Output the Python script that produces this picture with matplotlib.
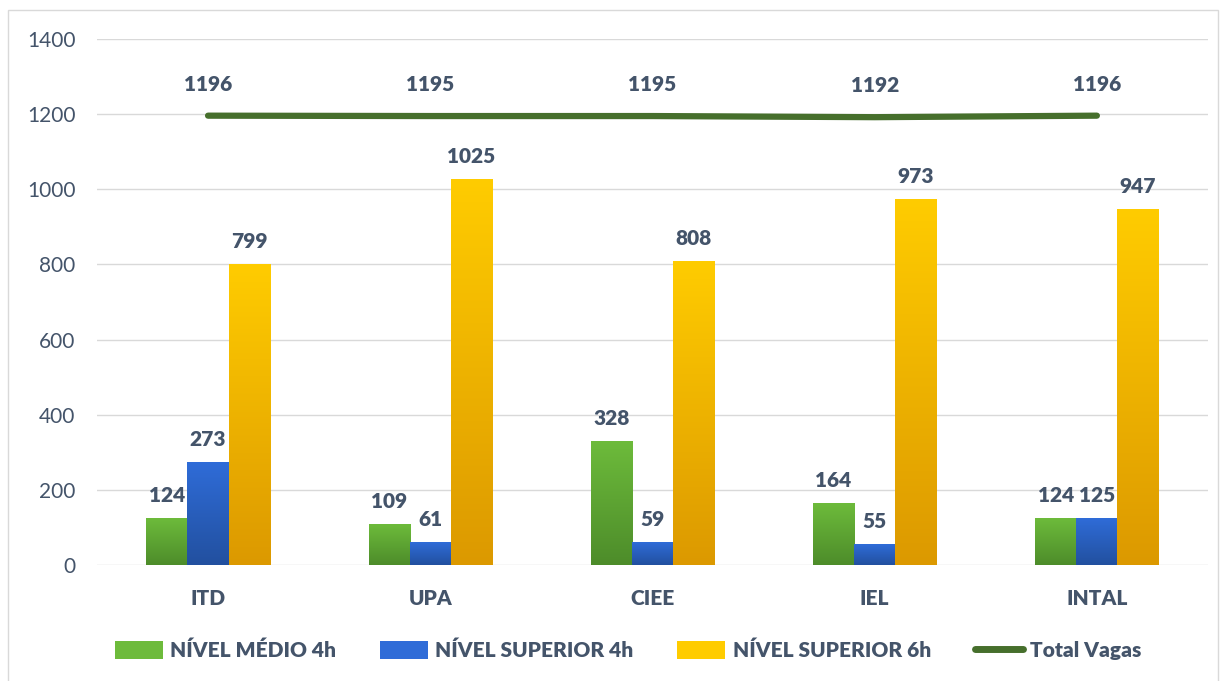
import numpy as np
import matplotlib
matplotlib.use('Agg')
import matplotlib.pyplot as plt
from matplotlib.colors import LinearSegmentedColormap
from matplotlib.patches import Patch, Rectangle
from matplotlib.lines import Line2D

plt.rcParams['font.family'] = ['Lato', 'DejaVu Sans']

categories = ['ITD', 'UPA', 'CIEE', 'IEL', 'INTAL']
medio_4h = [124, 109, 328, 164, 124]
superior_4h = [273, 61, 59, 55, 125]
superior_6h = [799, 1025, 808, 973, 947]
total_vagas = [1196, 1195, 1195, 1192, 1196]

series_names = ['NÍVEL MÉDIO 4h', 'NÍVEL SUPERIOR 4h', 'NÍVEL SUPERIOR 6h']
# (top colour, bottom colour) for the vertical gradients
grad_colors = [('#6dbb3b', '#4d8c2a'), ('#2f6cd8', '#22509f'), ('#ffcc00', '#dc9900')]
line_color = '#466f2c'
label_color = '#44546a'

fig = plt.figure(figsize=(12.27, 6.81), dpi=100)
ax = fig.add_axes([0.079, 0.1703, 0.9055, 0.7724])

x = np.arange(len(categories))
width = 0.185
offsets = [-width, 0, width]
grad = np.linspace(1, 0, 256).reshape(-1, 1)

for vals, off, (c_top, c_bot) in zip([medio_4h, superior_4h, superior_6h], offsets, grad_colors):
    cmap = LinearSegmentedColormap.from_list('g', [c_bot, c_top])
    for xi, v in zip(x, vals):
        x0 = xi + off - width / 2
        ax.imshow(grad, cmap=cmap, extent=[x0, x0 + width, 0, v], aspect='auto',
                  zorder=2, interpolation='bilinear', vmin=0, vmax=1)
        ax.text(xi + off, v + 36, str(v), ha='center', va='bottom', fontsize=15,
                fontweight='heavy', color=label_color, zorder=4)

ax.plot(x, total_vagas, color=line_color, lw=4.5, solid_capstyle='round', zorder=3)
for xi, v in zip(x, total_vagas):
    ax.text(xi, v + 58, str(v), ha='center', va='bottom', fontsize=15,
            fontweight='heavy', color=label_color, zorder=4)

ax.set_xlim(-0.5, len(categories) - 0.5)
ax.set_ylim(0, 1400)
ax.set_yticks(range(0, 1401, 200))
ax.set_xticks(x)
ax.set_xticklabels(categories, fontweight='heavy')
ax.tick_params(axis='both', length=0, labelsize=15, colors=label_color)
ax.tick_params(axis='x', pad=17)
ax.tick_params(axis='y', pad=15.5)
ax.grid(axis='y', color='#d9d9d9', lw=1, zorder=0)
ax.set_axisbelow(True)
for s in ax.spines.values():
    s.set_visible(False)

# outer frame of the chart area
fig.patches.append(Rectangle((8 / 1227, -0.05), 1210 / 1227, 1 - 10 / 681 + 0.05,
                             transform=fig.transFigure, fill=False,
                             edgecolor='#d9d9d9', lw=1))

handles = [Patch(facecolor=grad_colors[i][0], edgecolor='none') for i in range(3)]
handles.append(Line2D([0], [0], color=line_color, lw=5, solid_capstyle='round'))
leg = fig.legend(handles, series_names + ['Total Vagas'], loc='center', ncol=4,
                 bbox_to_anchor=(0.512, 0.045), frameon=False, handlelength=2.3,
                 handleheight=0.9, handletextpad=0.35, columnspacing=2.1,
                 prop={'size': 15, 'weight': 'heavy'})
for t in leg.get_texts():
    t.set_color(label_color)

fig.savefig('out.png', dpi=100)
